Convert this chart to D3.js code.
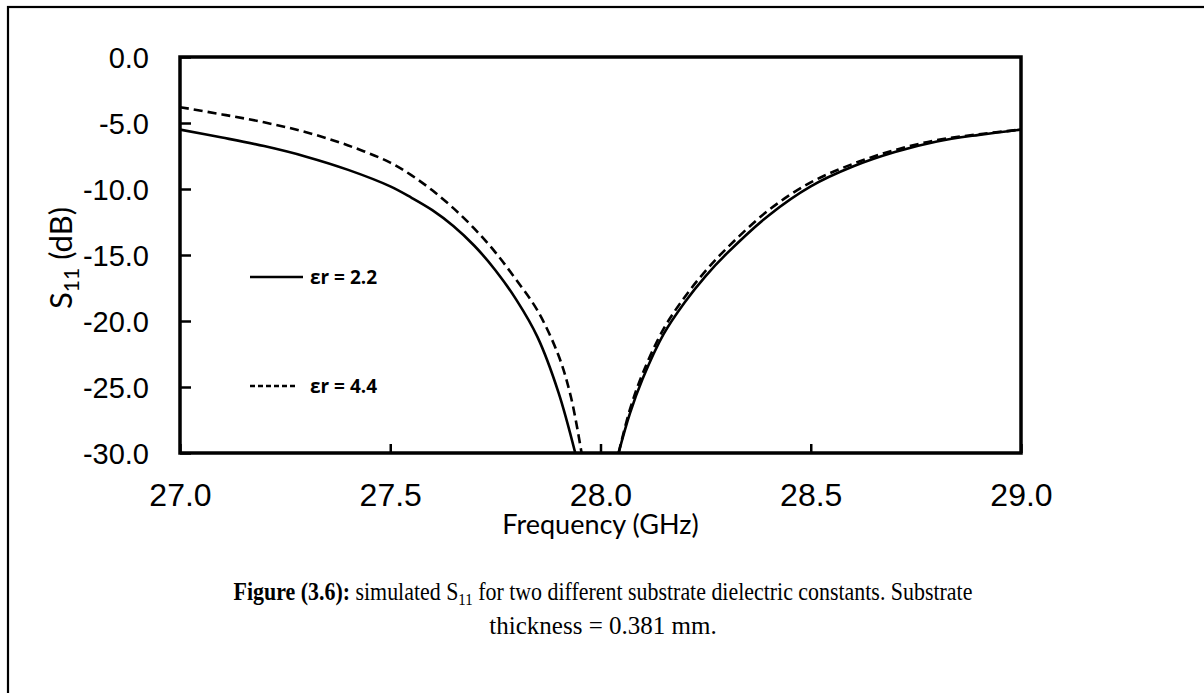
<!DOCTYPE html>
<html><head><meta charset="utf-8">
<script src="https://cdn.jsdelivr.net/npm/d3@7"></script>
<style>body{margin:0;background:#fff}svg{display:block}</style>
</head><body>
<svg id="c" width="1204" height="693"></svg>
<script>
const xTicks = [27.0, 27.5, 28.0, 28.5, 29.0];
const yTicks = [0, -5, -10, -15, -20, -25, -30];
const seriesNames = ["εr = 2.2", "εr = 4.4"];
// solid εr = 2.2 : left branch and right branch of the resonance dip
const freq22L = [27.0, 27.1, 27.2, 27.3, 27.4, 27.5, 27.55, 27.6, 27.65, 27.7, 27.75, 27.8, 27.85, 27.9, 27.94];
const s11_22L = [-5.5, -6.1, -6.75, -7.55, -8.55, -9.8, -10.65, -11.6, -12.8, -14.3, -16.15, -18.4, -21.2, -25.4, -30.0];
const freq22R = [28.043, 28.07, 28.1, 28.15, 28.2, 28.25, 28.3, 28.4, 28.5, 28.6, 28.7, 28.8, 28.9, 29.0];
const s11_22R = [-30.0, -27.0, -24.4, -21.0, -18.6, -16.6, -14.9, -12.0, -9.8, -8.3, -7.2, -6.4, -5.9, -5.5];
// dashed εr = 4.4
const freq44L = [27.0, 27.1, 27.2, 27.3, 27.4, 27.5, 27.55, 27.6, 27.65, 27.7, 27.75, 27.8, 27.85, 27.9, 27.93, 27.955];
const s11_44L = [-3.8, -4.35, -4.95, -5.7, -6.7, -8.0, -8.95, -10.1, -11.45, -13.0, -14.8, -16.9, -19.2, -22.6, -25.8, -30.0];
const freq44R = [28.043, 28.07, 28.1, 28.15, 28.2, 28.25, 28.3, 28.4, 28.5, 28.6, 28.7, 28.8, 28.9, 29.0];
const s11_44R = [-30.0, -26.7, -24.0, -20.6, -18.2, -16.2, -14.5, -11.6, -9.5, -8.1, -7.05, -6.3, -5.85, -5.5];

const svg = d3.select("#c");
const L = 180, R = 1021, T = 57, B = 453;
const x = d3.scaleLinear().domain([27, 29]).range([L, R]);
const y = d3.scaleLinear().domain([-30, 0]).range([B, T]);

// outer border
svg.append("rect").attr("x", 8).attr("y", 7).attr("width", 1204).attr("height", 700)
  .attr("fill", "none").attr("stroke", "#000").attr("stroke-width", 2.2);

svg.append("defs").append("clipPath").attr("id", "clip")
  .append("rect").attr("x", L).attr("y", T).attr("width", R - L).attr("height", B - T);

const line = d3.line().x(d => x(d[0])).y(d => y(d[1])).curve(d3.curveCatmullRom.alpha(0.5));
const zip = (a, b) => a.map((f, i) => [f, b[i]]);
const g = svg.append("g").attr("clip-path", "url(#clip)");
[zip(freq22L, s11_22L), zip(freq22R, s11_22R)].forEach(b =>
  g.append("path").attr("d", line(b)).attr("fill", "none").attr("stroke", "#000").attr("stroke-width", 2.6));
[zip(freq44L, s11_44L), zip(freq44R, s11_44R)].forEach(b =>
  g.append("path").attr("d", line(b)).attr("fill", "none").attr("stroke", "#000").attr("stroke-width", 2.6).attr("stroke-dasharray", "9,5"));

// axes
const fmt = d => d.toFixed(1);
const xAxis = d3.axisBottom(x).tickValues(xTicks).tickSizeInner(-9).tickSizeOuter(0).tickPadding(0).tickFormat(fmt);
const gx = svg.append("g").attr("transform", `translate(0,${B})`).call(xAxis);
gx.select(".domain").remove();
gx.selectAll(".tick line").attr("stroke", "#000").attr("stroke-width", 2.5);
gx.selectAll(".tick text").attr("y", 53).attr("dy", null).attr("font-family", "'Liberation Sans', Arial, sans-serif")
  .attr("font-size", 32).attr("fill", "#000");

const yAxis = d3.axisLeft(y).tickValues(yTicks).tickSizeInner(-11).tickSizeOuter(0).tickPadding(0).tickFormat(fmt);
const gy = svg.append("g").attr("transform", `translate(${L},0)`).call(yAxis);
gy.select(".domain").remove();
gy.selectAll(".tick line").attr("stroke", "#000").attr("stroke-width", 2.5);
gy.selectAll(".tick text").attr("x", -31).attr("dy", "0.35em").attr("font-family", "'Liberation Sans', Arial, sans-serif")
  .attr("font-size", 29).attr("fill", "#000").attr("text-anchor", "end");

// frame
svg.append("rect").attr("x", L).attr("y", T).attr("width", R - L).attr("height", B - T)
  .attr("fill", "none").attr("stroke", "#000").attr("stroke-width", 3.5);

// axis titles
svg.append("text").attr("x", x(28)).attr("y", 534).attr("text-anchor", "middle")
  .attr("font-family", "Lato, 'Open Sans', sans-serif").attr("font-size", 27).text("Frequency (GHz)");
const yt = svg.append("text").attr("transform", "translate(72,258) rotate(-90)").attr("text-anchor", "middle")
  .attr("font-family", "Lato, 'Open Sans', sans-serif").attr("font-size", 31);
yt.append("tspan").text("S");
yt.append("tspan").attr("font-size", 21).attr("dy", 7).text("11");
yt.append("tspan").attr("dy", -7).text(" (dB)");

// legend
const leg = [{name: seriesNames[0], yv: 277, dash: null, ty: 284}, {name: seriesNames[1], yv: 386, dash: "5,3", ty: 393}];
leg.forEach(l => {
  svg.append("line").attr("x1", 250).attr("x2", l.dash ? 297 : 303).attr("y1", l.yv).attr("y2", l.yv)
    .attr("stroke", "#000").attr("stroke-width", 2.5).attr("stroke-dasharray", l.dash);
  svg.append("text").attr("x", 310).attr("y", l.ty).attr("font-family", "'Open Sans', sans-serif")
    .attr("font-weight", "bold").attr("font-size", 19).text(l.name);
});

// caption (line 1 fitted to 739 px)
const serif = "'Liberation Serif', 'Times New Roman', serif";
const g1 = svg.append("g");
const cap1 = g1.append("text").attr("x", 0).attr("y", 0).attr("text-anchor", "middle")
  .attr("font-family", serif).attr("font-size", 25);
cap1.append("tspan").attr("font-weight", "bold").text("Figure (3.6):");
cap1.append("tspan").text("  simulated S");
cap1.append("tspan").attr("font-size", 17).attr("dy", 5).text("11");
cap1.append("tspan").attr("dy", -5).text(" for two different substrate dielectric constants. Substrate");
const w1 = cap1.node().getBBox().width;
g1.attr("transform", `translate(603,600) scale(${739 / w1},1)`);
svg.append("text").attr("x", 603).attr("y", 634).attr("text-anchor", "middle")
  .attr("font-family", serif).attr("font-size", 25)
  .text("thickness = 0.381 mm.");
</script>
</body></html>
